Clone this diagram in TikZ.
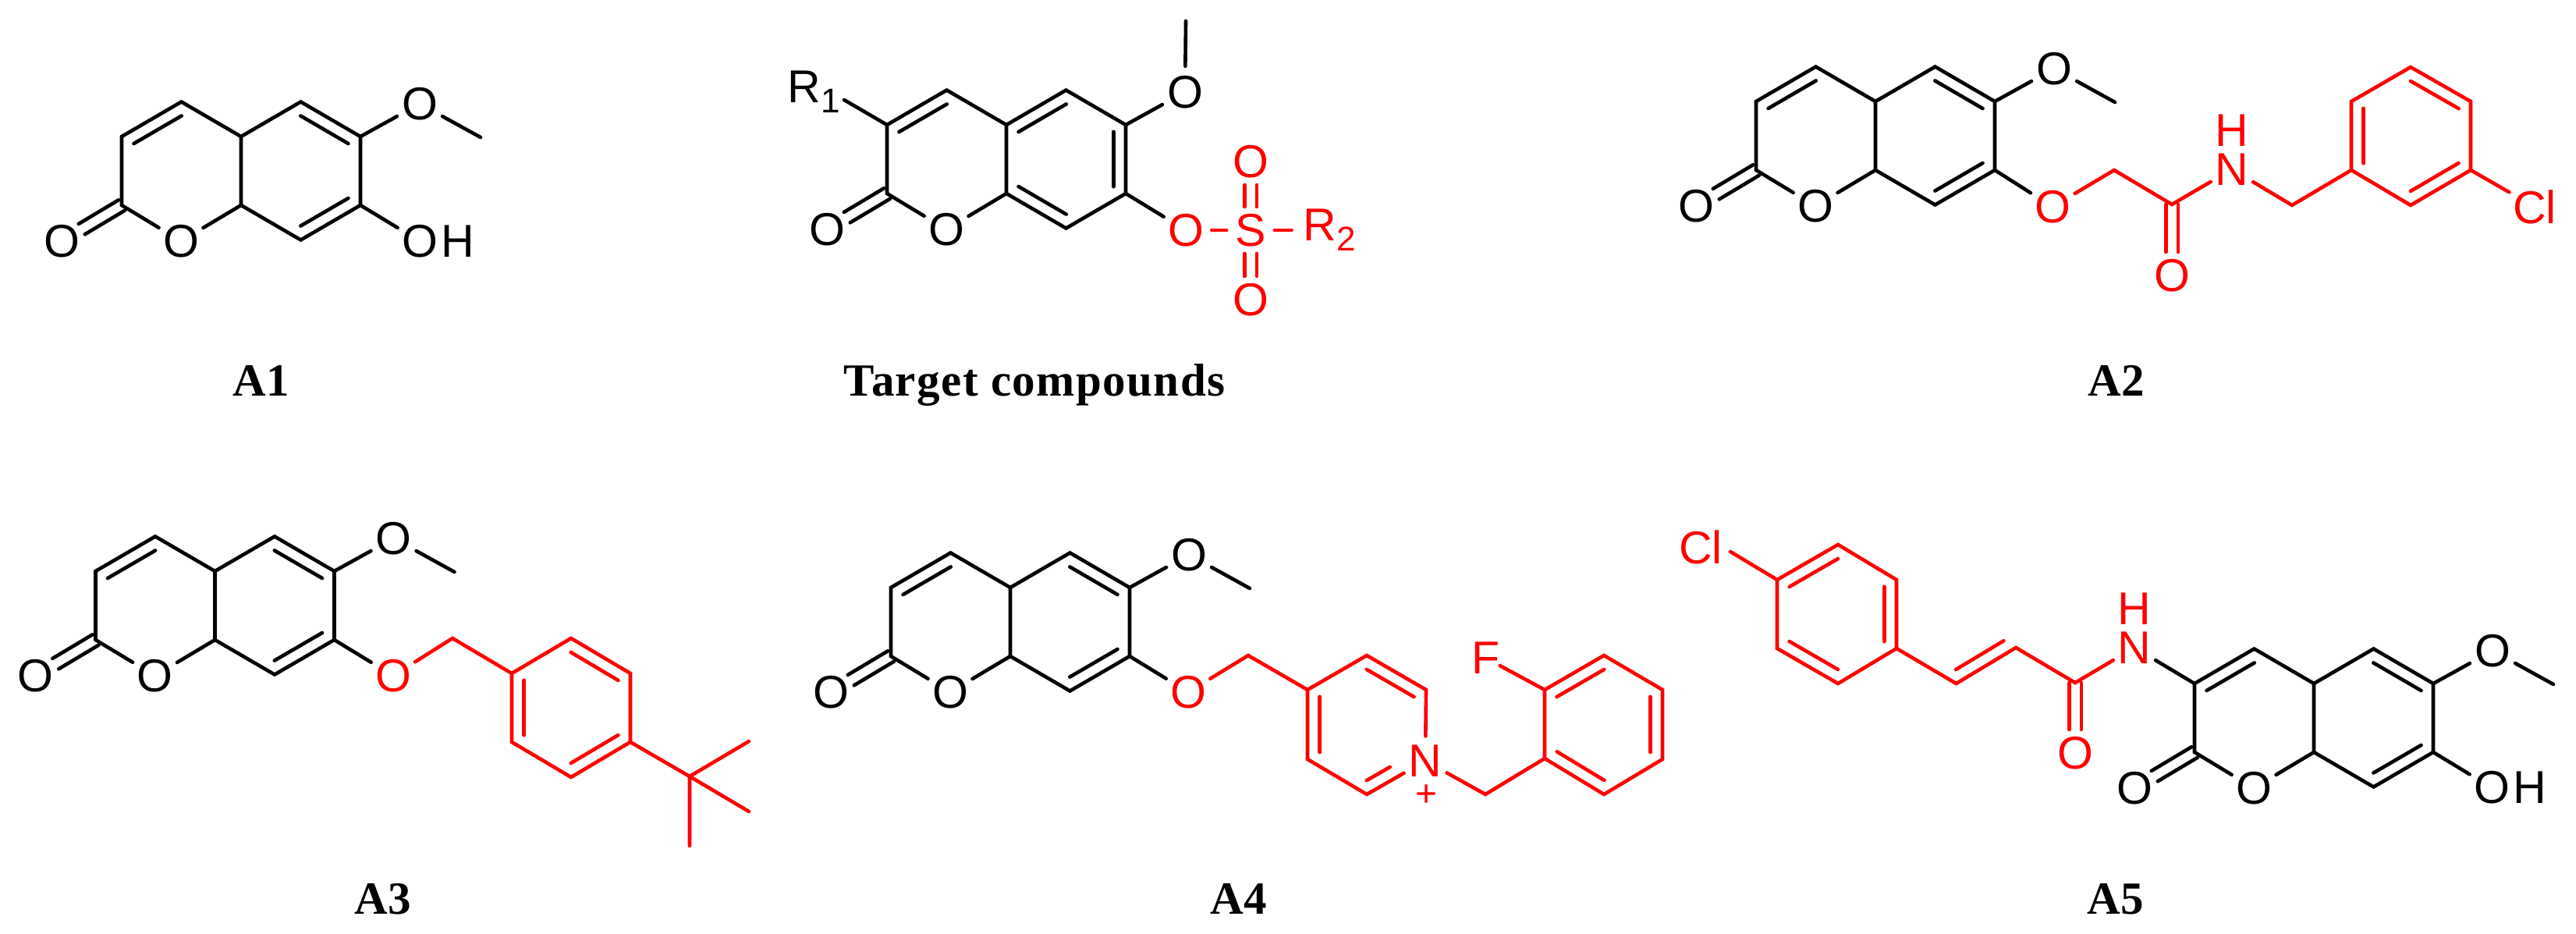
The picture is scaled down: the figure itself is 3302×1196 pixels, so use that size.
\documentclass[tikz,border=0pt]{standalone}
\usepackage{fontspec}
\setmainfont{Liberation Sans}
\newfontfamily\capserif{Liberation Serif}
\usetikzlibrary{positioning,calc}

\tikzset{
    atom/.style={circle, inner sep=0pt, font=\fontsize{29.5pt}{30pt}\selectfont},
    atomh/.style={inner sep=0pt, font=\fontsize{29.5pt}{30pt}\selectfont},
    charge/.style={inner sep=0pt, font=\fontsize{24pt}{24pt}\selectfont},
    compound/.style={anchor=base, inner sep=0pt, font=\capserif\bfseries\fontsize{29.5pt}{30pt}\selectfont},
}

% inner line of a double bond, on the left of a -> b
\newcommand{\dbl}[2]{\draw ($(#1)!0.1!(#2)!7.8pt!90:(#2)$) -- ($(#2)!0.1!(#1)!-7.8pt!90:(#1)$);}
% two lines side by side
\newcommand{\twinbond}[3][]{%
    \draw[#1] ($(#2)!3.9pt!90:(#3)$) -- ($(#3)!3.9pt!-90:(#2)$);
    \draw[#1] ($(#2)!-3.9pt!90:(#3)$) -- ($(#3)!-3.9pt!-90:(#2)$);}
\newcommand{\subatom}[1]{\rlap{\raisebox{-6.5pt}{\fontsize{22pt}{22pt}\selectfont #1}}}
% rings, lactone and methoxy: prefix, position of c4a, [methyl offset]
\newcommand{\coumarin}[3][307,1]{%
    \begin{scope}[shift={(#3)}, name prefix=#2-]
        \coordinate (c4a) at (0,0);
        \coordinate (c4) at (-76.5,-44.5);
        \coordinate (c3) at (-153,0);
        \coordinate (c2) at (-153,88);
        \coordinate (c8a) at (0,88);
        \coordinate (c5) at (76.5,-44.5);
        \coordinate (c6) at (153,0);
        \coordinate (c7) at (153,88);
        \coordinate (c8) at (76.5,132.5);
        \coordinate (me) at (#1);
        \node[atom] (o1) at (-77,134) {O};
        \node[atom] (oc) at (-230,134) {O};
        \node[atom] (om) at (229,-42) {O};
        \draw (c4a) -- (c4) -- (c3) -- (c2) -- (o1) -- (c8a) -- (c4a);
        \draw (c4a) -- (c5) -- (c6) -- (c7) -- (c8) -- (c8a);
        \draw (c6) -- (om) -- (me);
        \twinbond[shorten >=15pt]{c2}{oc}
    \end{scope}}
\newcommand{\usualbonds}[1]{\dbl{#1-c4}{#1-c3}\dbl{#1-c8}{#1-c7}\dbl{#1-c6}{#1-c5}}

\begin{document}
\begin{tikzpicture}[x=0.5pt, y=-0.5pt, line width=2.3pt, line cap=round]
    \useasboundingbox (0,0) rectangle (3302,1196);

    % A1
    \coumarin{a1}{309,175}
    \usualbonds{a1}
    \node[atom] (a1-o7) at (538,309) {O};
    \node[atomh, right=-4pt of a1-o7] (a1-h) {H};
    \draw (a1-c7) -- (a1-o7);
    \node[compound] (a1-name) at (335,507) {A1};

    % Target compounds
    \coumarin[230,-133]{t}{1290,160}
    \dbl{t-c4}{t-c3}
    \dbl{t-c5}{t-c4a}
    \dbl{t-c7}{t-c6}
    \dbl{t-c8a}{t-c8}
    \node[atom] (t-r1) at (1031,118) {R\subatom{1}};
    \coordinate (t-r1end) at (1082,128);
    \draw (t-c3) -- (t-r1end);
    \begin{scope}[red]
        \node[atom] (t-o7) at (1520,295) {O};
        \node[atom] (t-s) at (1603,295) {S};
        \node[atom] (t-r2) at (1692,295) {R\subatom{2}};
        \node[atom] (t-oa) at (1603,207) {O};
        \node[atom] (t-ob) at (1603,384) {O};
        \draw (t-o7) -- (t-s) -- (t-r2);
        \twinbond[shorten <=15pt, shorten >=15pt]{t-s}{t-oa}
        \twinbond[shorten <=15pt, shorten >=15pt]{t-s}{t-ob}
    \end{scope}
    \draw (t-c7) -- (t-o7);
    \node[compound] (t-name) at (1326,507) {\addfontfeatures{LetterSpace=2.5}Target compounds};

    % A2
    \coumarin{a2}{2404,130}
    \usualbonds{a2}
    \begin{scope}[red]
        \node[atom] (a2-o7) at (2631,265) {O};
        \coordinate (a2-ch2) at (2710,218);
        \coordinate (a2-co) at (2784,262);
        \node[atom] (a2-o) at (2784,353) {O};
        \node[atom] (a2-n) at (2861,217) {N};
        \node[atomh, above=-2pt of a2-n] (a2-h) {H};
        \coordinate (a2-bn) at (2938,263);
        \coordinate (a2-r1) at (3014,218);
        \coordinate (a2-r2) at (3090,263);
        \coordinate (a2-r3) at (3167,218);
        \coordinate (a2-r4) at (3167,130);
        \coordinate (a2-r5) at (3090,86);
        \coordinate (a2-r6) at (3014,130);
        \node[atom] (a2-cl) at (3249,265) {Cl};
        \draw (a2-o7) -- (a2-ch2) -- (a2-co) -- (a2-n) -- (a2-bn) -- (a2-r1);
        \twinbond[shorten >=15pt]{a2-co}{a2-o}
        \draw (a2-r1) -- (a2-r2) -- (a2-r3) -- (a2-r4) -- (a2-r5) -- (a2-r6) -- cycle;
        \draw (a2-r3) -- (a2-cl);
        \dbl{a2-r6}{a2-r1}
        \dbl{a2-r2}{a2-r3}
        \dbl{a2-r4}{a2-r5}
    \end{scope}
    \draw (a2-c7) -- (a2-o7);
    \node[compound] (a2-name) at (2713,507) {A2};

    % A3
    \coumarin{a3}{275.5,732}
    \usualbonds{a3}
    \begin{scope}[red]
        \node[atom] (a3-o7) at (504,866) {O};
        \coordinate (a3-ch2) at (580,818);
        \coordinate (a3-r1) at (656,863);
        \coordinate (a3-r2) at (732,818);
        \coordinate (a3-r3) at (808,863);
        \coordinate (a3-r4) at (808,951);
        \coordinate (a3-r5) at (732,996);
        \coordinate (a3-r6) at (656,951);
        \coordinate (a3-cq) at (884,995);
        \coordinate (a3-m1) at (960,950);
        \coordinate (a3-m2) at (960,1040);
        \coordinate (a3-m3) at (884,1084);
        \draw (a3-o7) -- (a3-ch2) -- (a3-r1);
        \draw (a3-r1) -- (a3-r2) -- (a3-r3) -- (a3-r4) -- (a3-r5) -- (a3-r6) -- cycle;
        \dbl{a3-r1}{a3-r6}
        \dbl{a3-r5}{a3-r4}
        \dbl{a3-r3}{a3-r2}
        \draw (a3-r4) -- (a3-cq);
        \draw (a3-cq) -- (a3-m1) (a3-cq) -- (a3-m2) (a3-cq) -- (a3-m3);
    \end{scope}
    \draw (a3-c7) -- (a3-o7);
    \node[compound] (a3-name) at (491,1171) {A3};

    % A4
    \coumarin{a4}{1295,753}
    \usualbonds{a4}
    \begin{scope}[red]
        \node[atom] (a4-o7) at (1523,887) {O};
        \coordinate (a4-ch2) at (1600,840);
        \coordinate (a4-p4) at (1676,884);
        \coordinate (a4-p3) at (1752,840);
        \coordinate (a4-p2) at (1828,884);
        \node[atom] (a4-n) at (1827,975) {N};
        \node[charge] (a4-plus) at (1828,1020) {+};
        \coordinate (a4-p6) at (1752,1018);
        \coordinate (a4-p5) at (1676,973);
        \coordinate (a4-bn) at (1904,1018);
        \coordinate (a4-r1) at (1980,972);
        \coordinate (a4-r2) at (1980,884);
        \coordinate (a4-r3) at (2056,840);
        \coordinate (a4-r4) at (2131,884);
        \coordinate (a4-r5) at (2131,973);
        \coordinate (a4-r6) at (2056,1018);
        \node[atom] (a4-f) at (1904,843) {F};
        \draw (a4-o7) -- (a4-ch2) -- (a4-p4);
        \draw (a4-n) -- (a4-p2) -- (a4-p3) -- (a4-p4) -- (a4-p5) -- (a4-p6) -- (a4-n);
        \dbl{a4-p4}{a4-p5}
        \dbl{a4-p2}{a4-p3}
        \draw ($(a4-p6)!0.1!(a4-n)!7.8pt!90:(a4-n)$) -- ($(a4-n)!0.5!(a4-p6)!-7.8pt!90:(a4-p6)$);
        \draw (a4-n) -- (a4-bn) -- (a4-r1);
        \draw (a4-r1) -- (a4-r2) -- (a4-r3) -- (a4-r4) -- (a4-r5) -- (a4-r6) -- cycle;
        \dbl{a4-r3}{a4-r2}
        \dbl{a4-r1}{a4-r6}
        \dbl{a4-r5}{a4-r4}
        \draw[shorten >=-4pt] (a4-r2) -- (a4-f);
    \end{scope}
    \draw (a4-c7) -- (a4-o7);
    \node[compound] (a4-name) at (1588,1171) {A4};

    % A5
    \coumarin{a5}{2966,876}
    \usualbonds{a5}
    \node[atom] (a5-o7) at (3194,1009.5) {O};
    \node[atomh, right=-4pt of a5-o7] (a5-h) {H};
    \draw (a5-c7) -- (a5-o7);
    \begin{scope}[red]
        \node[atom] (a5-n) at (2736,830) {N};
        \node[atomh, above=-2pt of a5-n] (a5-nh) {H};
        \coordinate (a5-co) at (2660,875);
        \node[atom] (a5-o) at (2660,965) {O};
        \coordinate (a5-v1) at (2584,830);
        \coordinate (a5-v2) at (2507.5,876);
        \coordinate (a5-r1) at (2431,831);
        \coordinate (a5-r2) at (2431,743);
        \coordinate (a5-r3) at (2356,698);
        \coordinate (a5-r4) at (2278,743);
        \coordinate (a5-r5) at (2278,831);
        \coordinate (a5-r6) at (2356,876);
        \node[atom] (a5-cl) at (2180,701) {Cl};
        \coordinate (a5-clend) at (2218,707);
        \draw (a5-n) -- (a5-co) -- (a5-v1) -- (a5-v2) -- (a5-r1);
        \twinbond[shorten >=15pt]{a5-co}{a5-o}
        \dbl{a5-v2}{a5-v1}
        \draw (a5-r1) -- (a5-r2) -- (a5-r3) -- (a5-r4) -- (a5-r5) -- (a5-r6) -- cycle;
        \dbl{a5-r3}{a5-r4}
        \dbl{a5-r5}{a5-r6}
        \dbl{a5-r1}{a5-r2}
        \draw (a5-r4) -- (a5-clend);
    \end{scope}
    \draw (a5-n) -- (a5-c3);
    \node[compound] (a5-name) at (2712,1171) {A5};
\end{tikzpicture}
\end{document}
